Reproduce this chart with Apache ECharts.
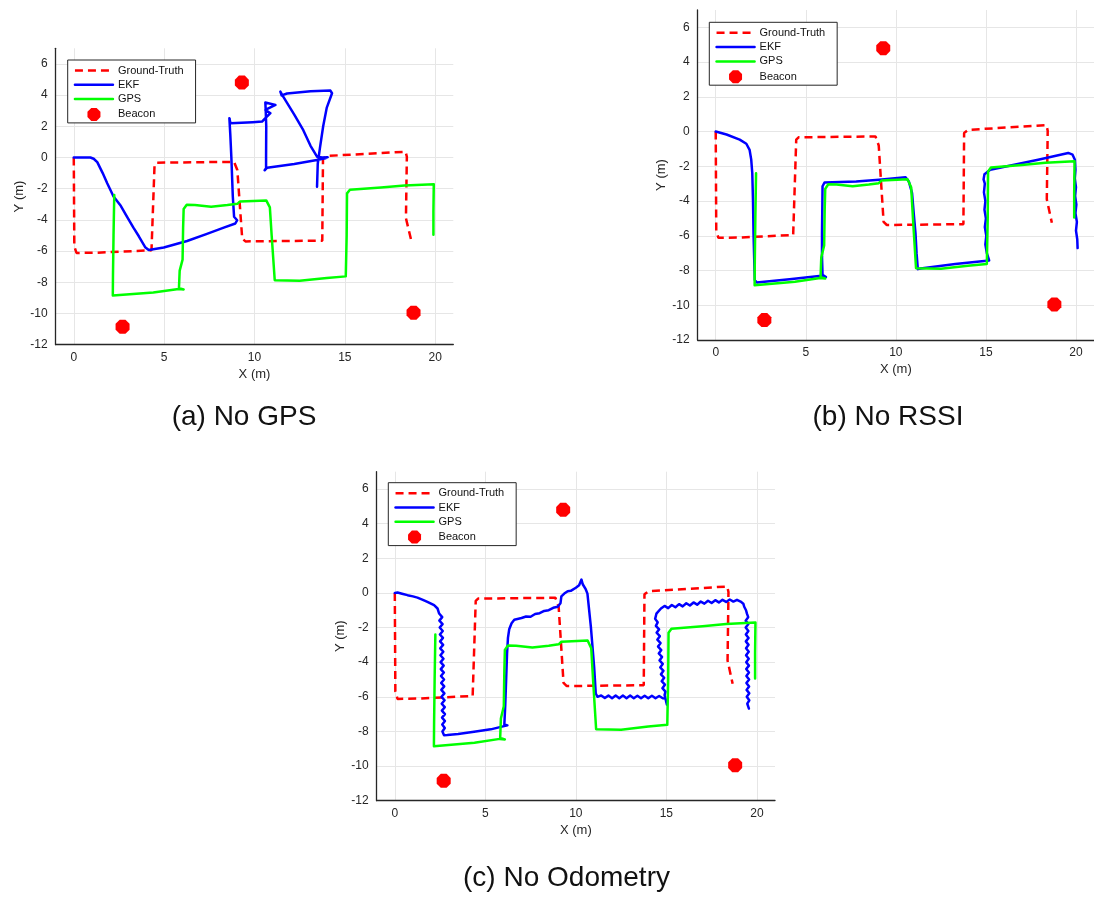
<!DOCTYPE html>
<html>
<head>
<meta charset="utf-8">
<script src="https://cdn.jsdelivr.net/npm/echarts@6/dist/echarts.min.js"></script>
<style>
  html, body { margin: 0; padding: 0; background: #ffffff; }
  #chart { width: 1094px; height: 897px; }
</style>
</head>
<body>
<div id="chart"></div>
<script>
// Tick positions shared by the three panels
const xTicks = [0, 5, 10, 15, 20];
const yTicks = [-12, -10, -8, -6, -4, -2, 0, 2, 4, 6];

// Reference path driven by the robot (m)
const groundTruth = [
  [0, 0], [0.03, -5.7], [0.15, -6.12], [1.3, -6.1], [4.3, -5.95], [4.47, -0.46],
  [4.6, -0.33], [8.87, -0.28], [9.05, -0.8], [9.32, -5.2], [9.5, -5.38],
  [13.75, -5.33], [13.79, -0.08], [14.02, 0.1], [18.36, 0.37], [18.43, 0.05],
  [18.38, -3.9], [18.66, -5.25]
];

// Raw GPS fixes (m)
const gps = [
  [2.24, -2.4], [2.2, -5.0], [2.17, -7.5], [2.16, -8.85], [2.25, -8.86], [4.4, -8.65],
  [5.8, -8.43], [6.08, -8.46], [5.82, -8.38], [5.86, -7.25], [6.02, -6.55], [6.05, -4.5],
  [6.08, -3.3], [6.25, -3.03], [6.7, -3.05], [7.6, -3.15], [8.5, -3.05], [9.05, -2.97],
  [9.2, -2.82], [10.65, -2.75], [10.85, -3.2], [10.95, -5.0], [11.12, -7.87], [12.5, -7.9],
  [14.0, -7.72], [15.05, -7.62], [15.1, -5.0], [15.12, -2.3], [15.28, -2.07], [17.0, -1.92],
  [18.3, -1.8], [19.92, -1.71], [19.9, -3.5], [19.9, -4.95]
];

// Beacon locations (m)
const beacons = [[9.3, 4.8], [2.7, -10.85], [18.8, -9.95]];

// EKF estimate without GPS
const ekfNoGps = [
  [0, 0], [0.92, 0], [1.1, -0.08], [1.3, -0.3], [1.6, -1.0], [1.85, -1.65], [2.2, -2.5],
  [2.6, -3.1], [2.95, -3.8], [3.3, -4.5], [3.6, -5.05], [3.95, -5.75], [4.15, -5.93],
  [4.98, -5.77], [6.27, -5.35], [7.37, -4.9], [8.3, -4.5], [8.94, -4.23], [9.04, -4.02],
  [8.87, -3.8], [8.8, -2.5], [8.72, 0.0], [8.66, 1.5], [8.61, 2.52], [8.67, 2.19],
  [9.9, 2.26], [10.42, 2.3], [10.6, 2.52], [10.88, 2.84], [10.6, 3.05], [11.16, 3.37],
  [10.6, 3.52], [10.62, 3.05], [10.65, 2.0], [10.64, 0.0], [10.64, -0.69], [10.56, -0.82],
  [10.7, -0.65], [12.2, -0.42], [13.45, -0.16], [13.92, -0.05], [14.05, 0.02], [13.75, 0.0],
  [13.46, 0.05], [13.1, 0.75], [12.7, 1.75], [12.2, 2.75], [11.75, 3.6], [11.53, 4.01],
  [11.43, 4.22], [11.5, 3.98], [11.8, 4.1], [13.1, 4.24], [14.2, 4.29], [14.29, 4.12],
  [14.0, 3.2], [13.8, 2.0], [13.62, 0.6], [13.5, -0.4], [13.46, -1.87]
];

// EKF estimate without RSSI
const ekfNoRssi = [
  [0, 0], [0.6, -0.17], [1.33, -0.46], [1.7, -0.7], [1.88, -1.05], [1.97, -1.6],
  [2.03, -2.4], [2.07, -4.0], [2.1, -5.9], [2.14, -7.5], [2.17, -8.55], [2.28, -8.69],
  [4.1, -8.5], [5.75, -8.31], [6.12, -8.37], [5.93, -8.25], [5.9, -7.2], [5.9, -5.85],
  [5.92, -4.2], [5.93, -3.15], [6.04, -2.93], [7.8, -2.87], [9.07, -2.77], [10.54, -2.63],
  [10.72, -2.87], [10.9, -3.54], [11.0, -4.8], [11.09, -5.85], [11.15, -7.0], [11.22, -7.92],
  [11.37, -7.88], [13.3, -7.63], [15.18, -7.42], [15.05, -7.0], [14.97, -6.5], [15.02, -6.0],
  [14.94, -5.5], [15.0, -5.0], [14.92, -4.5], [14.97, -4.0], [14.89, -3.5], [14.94, -3.0],
  [14.87, -2.75], [14.92, -2.45], [15.24, -2.2], [17.9, -1.62], [19.57, -1.23], [19.81, -1.33],
  [19.94, -1.62], [19.97, -2.2], [19.93, -2.7], [20.0, -3.2], [19.95, -3.7], [20.02, -4.2],
  [19.97, -4.7], [20.05, -5.2], [20.0, -5.7], [20.07, -6.2], [20.09, -6.71]
];

// EKF estimate without odometry
const ekfNoOdometry = [
  [0, 0], [0.15, 0.02], [0.4, -0.05], [0.7, -0.13], [1.0, -0.2], [1.25, -0.27], [1.55, -0.4],
  [1.8, -0.52], [2.17, -0.71], [2.36, -0.9], [2.45, -1.19],
  [2.62, -1.4], [2.46, -1.6], [2.64, -1.8], [2.48, -2.0], [2.65, -2.2], [2.49, -2.4],
  [2.66, -2.6], [2.5, -2.8], [2.67, -3.0], [2.51, -3.2], [2.68, -3.4], [2.52, -3.6],
  [2.69, -3.8], [2.53, -4.0], [2.7, -4.2], [2.54, -4.4], [2.71, -4.6], [2.55, -4.8],
  [2.72, -5.0], [2.56, -5.2], [2.73, -5.4], [2.57, -5.6], [2.74, -5.8], [2.58, -6.0],
  [2.75, -6.2], [2.59, -6.4], [2.76, -6.6], [2.6, -6.8], [2.77, -7.0], [2.61, -7.2],
  [2.77, -7.4], [2.62, -7.6], [2.76, -7.8], [2.63, -8.0], [2.72, -8.22],
  [2.9, -8.21], [3.5, -8.15], [4.38, -8.02], [5.3, -7.88], [5.8, -7.75], [6.22, -7.65],
  [6.05, -7.6], [6.1, -6.5], [6.15, -5.0], [6.2, -3.5], [6.25, -2.6], [6.32, -2.1],
  [6.45, -1.75], [6.6, -1.55], [7.0, -1.45], [7.25, -1.36], [7.5, -1.38], [7.75, -1.22],
  [8.0, -1.17], [8.25, -1.04], [8.5, -1.0], [8.75, -0.86], [9.0, -0.8], [9.15, -0.6],
  [9.2, -0.2], [9.36, -0.04], [9.55, 0.1], [9.72, 0.12], [10.0, 0.3], [10.18, 0.44],
  [10.31, 0.77], [10.38, 0.5], [10.46, 0.54], [10.55, 0.2], [10.64, -0.04], [10.83, -1.96],
  [11.01, -4.27], [11.1, -5.81], [11.2, -6.0],
  [11.4, -5.92], [11.6, -6.07], [11.8, -5.93], [12.0, -6.08], [12.2, -5.93], [12.4, -6.08],
  [12.6, -5.93], [12.8, -6.08], [13.0, -5.93], [13.2, -6.08], [13.4, -5.94], [13.6, -6.08],
  [13.8, -5.94], [14.0, -6.08], [14.2, -5.94], [14.4, -6.08], [14.6, -5.95], [14.8, -6.08],
  [14.95, -6.1], [15.03, -6.45], [14.9, -5.9],
  [14.95, -5.7], [14.78, -5.5], [14.92, -5.3], [14.74, -5.1], [14.88, -4.9], [14.7, -4.7],
  [14.84, -4.5], [14.66, -4.3], [14.8, -4.1], [14.62, -3.9], [14.76, -3.7], [14.58, -3.5],
  [14.72, -3.3], [14.54, -3.1], [14.68, -2.9], [14.5, -2.7], [14.64, -2.5], [14.46, -2.3],
  [14.6, -2.1], [14.42, -1.9], [14.52, -1.7], [14.38, -1.5], [14.45, -1.2],
  [14.7, -0.9], [14.9, -0.75], [15.1, -0.88], [15.3, -0.7], [15.5, -0.83], [15.7, -0.65],
  [15.9, -0.78], [16.1, -0.6], [16.3, -0.73], [16.5, -0.55], [16.7, -0.68], [16.9, -0.5],
  [17.1, -0.62], [17.3, -0.45], [17.5, -0.58], [17.7, -0.42], [17.9, -0.55], [18.1, -0.4],
  [18.3, -0.52], [18.5, -0.38], [18.7, -0.5], [18.9, -0.4], [19.1, -0.5], [19.25, -0.62],
  [19.3, -0.8], [19.4, -1.0], [19.45, -1.2],
  [19.52, -1.4], [19.38, -1.6], [19.53, -1.8], [19.38, -2.0], [19.53, -2.2], [19.39, -2.4],
  [19.54, -2.6], [19.39, -2.8], [19.54, -3.0], [19.4, -3.2], [19.55, -3.4], [19.4, -3.6],
  [19.55, -3.8], [19.41, -4.0], [19.56, -4.2], [19.41, -4.4], [19.56, -4.6], [19.42, -4.8],
  [19.57, -5.0], [19.42, -5.2], [19.57, -5.4], [19.43, -5.6], [19.58, -5.8], [19.44, -6.0],
  [19.58, -6.2], [19.47, -6.4], [19.56, -6.68]
];

const seriesNames = ['Ground-Truth', 'EKF', 'GPS', 'Beacon'];

// Panel layout: plot area, legend corner and caption centre
const panels = [
  { caption: '(a) No GPS', ekf: ekfNoGps,
    grid: { left: 55.7, top: 48.3, width: 397.6, height: 296.4 },
    legend: [67.7, 60], captionAt: [244, 417] },
  { caption: '(b) No RSSI', ekf: ekfNoRssi,
    grid: { left: 697.7, top: 10, width: 397.8, height: 330 },
    legend: [709.3, 22.3], captionAt: [888, 417] },
  { caption: '(c) No Odometry', ekf: ekfNoOdometry,
    grid: { left: 376.7, top: 471.7, width: 398.3, height: 329 },
    legend: [388.3, 482.7], captionAt: [566.5, 878] }
];

const FONT = "'Liberation Sans', Arial, Helvetica, sans-serif";
const AXIS_COLOR = '#262626';
const GRID_COLOR = '#e6e6e6';
const OCTAGON = 'path://M-0.414,-1L0.414,-1L1,-0.414L1,0.414L0.414,1L-0.414,1L-1,0.414L-1,-0.414Z';

// Legend entries: line entries show only the stroke, no marker
const legendData = seriesNames.map(name => name === 'Beacon'
  ? { name: name }
  : { name: name, itemStyle: { opacity: 0 } });

const option = {
  animation: false,
  backgroundColor: '#ffffff',
  grid: panels.map(p => Object.assign({ containLabel: false }, p.grid)),
  xAxis: panels.map((p, i) => ({
    type: 'value', gridIndex: i, min: -1, max: 21,
    name: 'X (m)', nameLocation: 'middle', nameGap: 23,
    nameTextStyle: { fontSize: 13, color: AXIS_COLOR, fontFamily: FONT },
    axisLine: { show: true, onZero: false, lineStyle: { color: AXIS_COLOR, width: 1.3 } },
    axisTick: { show: false, customValues: xTicks },
    axisLabel: { customValues: xTicks, fontSize: 12, color: AXIS_COLOR, fontFamily: FONT, margin: 7 },
    splitLine: { show: true, lineStyle: { color: GRID_COLOR, width: 1 } }
  })),
  yAxis: panels.map((p, i) => ({
    type: 'value', gridIndex: i, min: -12, max: 7,
    name: 'Y (m)', nameLocation: 'middle', nameGap: 30,
    nameTextStyle: { fontSize: 13, color: AXIS_COLOR, fontFamily: FONT },
    axisLine: { show: true, onZero: false, lineStyle: { color: AXIS_COLOR, width: 1.3 } },
    axisTick: { show: false, customValues: yTicks },
    axisLabel: { customValues: yTicks, fontSize: 12, color: AXIS_COLOR, fontFamily: FONT, margin: 8 },
    splitLine: { show: true, lineStyle: { color: GRID_COLOR, width: 1 } }
  })),
  legend: panels.map(p => ({
    left: p.legend[0], top: p.legend[1], orient: 'vertical',
    data: legendData, selectedMode: false,
    itemWidth: 38, itemHeight: 13, itemGap: 3.3,
    padding: [5, 12, 2, 6],
    lineStyle: { width: 2.5 },
    borderColor: AXIS_COLOR, borderWidth: 1, backgroundColor: '#ffffff',
    textStyle: { fontSize: 11, color: '#111111', fontFamily: FONT }
  })),
  graphic: panels.map(p => ({
    type: 'text', x: p.captionAt[0], y: p.captionAt[1],
    style: {
      text: p.caption, fontSize: 28, fontFamily: FONT, fill: '#111111',
      align: 'center', verticalAlign: 'middle', textAlign: 'center', textVerticalAlign: 'middle'
    }
  })),
  series: []
};

panels.forEach((p, i) => {
  option.series.push(
    { type: 'line', name: 'Ground-Truth', xAxisIndex: i, yAxisIndex: i, data: groundTruth,
      symbol: 'none', itemStyle: { color: '#ff0000' },
      lineStyle: { color: '#ff0000', width: 2.5, type: [8, 5] } },
    { type: 'line', name: 'EKF', xAxisIndex: i, yAxisIndex: i, data: p.ekf,
      symbol: 'none', itemStyle: { color: '#0000ff' },
      lineStyle: { color: '#0000ff', width: 2.5, join: 'round', cap: 'round' } },
    { type: 'line', name: 'GPS', xAxisIndex: i, yAxisIndex: i, data: gps,
      symbol: 'none', itemStyle: { color: '#00ff00' },
      lineStyle: { color: '#00ff00', width: 2.5, join: 'round', cap: 'round' } },
    { type: 'scatter', name: 'Beacon', xAxisIndex: i, yAxisIndex: i, data: beacons,
      symbol: OCTAGON, symbolSize: 14, itemStyle: { color: '#ff0000', opacity: 1 } }
  );
});

const chart = echarts.init(document.getElementById('chart'), null, { renderer: 'canvas' });
chart.setOption(option);
</script>
</body>
</html>
